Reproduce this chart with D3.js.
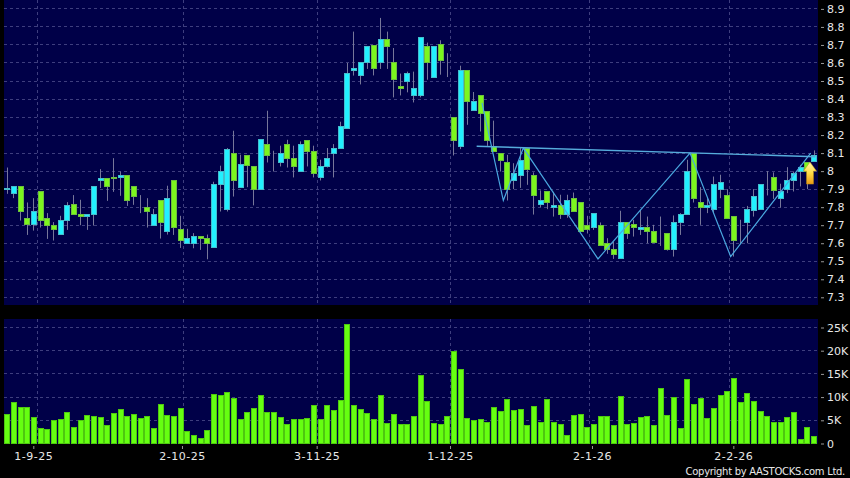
<!DOCTYPE html>
<html>
<head>
<meta charset="utf-8">
<script src="https://cdnjs.cloudflare.com/ajax/libs/d3/7.8.5/d3.min.js"></script>
<style>
html, body { margin: 0; padding: 0; background: #000; }
svg { display: block; }
text { font-family: "DejaVu Sans", sans-serif; fill: #e8e8e8; }
</style>
</head>
<body>
<div id="chart"></div>
<script>

var opens = [7.9,7.878,7.915,7.739,7.706,7.887,7.739,7.698,7.648,7.728,7.817,7.759,7.748,7.759,7.948,7.959,7.967,7.967,7.976,7.917,
	7.839,7.8,7.698,7.839,7.665,7.95,7.678,7.6,7.6,7.637,7.628,7.578,7.928,7.789,8.1,7.911,8.089,8.028,7.9,8.148,
	8.072,8.048,8.148,8.072,8.0,8.172,8.111,7.965,8.026,8.098,8.128,8.239,8.559,8.531,8.6,8.698,8.6,8.733,8.6,8.472,
	8.5,8.42,8.42,8.689,8.522,8.7,8.602,8.298,8.139,8.559,8.339,8.42,8.333,8.137,8.098,8.048,7.95,7.978,8.128,7.978,
	7.817,7.889,7.8,7.811,7.761,7.85,7.828,7.7,7.689,7.7,7.6,7.567,7.517,7.717,7.706,7.678,7.687,7.665,7.669,7.656,
	7.567,7.715,7.761,8.1,7.828,7.8,7.789,7.9,7.867,7.748,7.652,7.717,7.78,7.789,7.95,7.967,7.85,7.9,7.95,8.0,
	8.048,8.052]
var closes = [7.905,7.915,7.778,7.704,7.778,7.728,7.698,7.676,7.728,7.811,7.759,7.748,7.759,7.917,7.959,7.915,7.959,7.978,7.837,7.861,
	7.839,7.776,7.761,7.717,7.85,7.689,7.617,7.628,7.637,7.628,7.598,7.928,7.998,8.122,7.948,8.037,8.03,7.9,8.178,8.089,
	8.072,8.098,8.072,8.026,8.15,8.111,7.989,8.026,8.072,8.128,8.25,8.539,8.57,8.6,8.694,8.57,8.733,8.694,8.511,8.461,
	8.539,8.461,8.744,8.602,8.694,8.615,8.602,8.172,8.559,8.387,8.387,8.322,8.172,8.109,8.061,7.9,7.989,8.061,8.011,7.865,
	7.839,7.828,7.811,7.761,7.839,7.778,7.667,7.676,7.767,7.589,7.567,7.539,7.717,7.656,7.689,7.689,7.665,7.604,7.669,7.567,
	7.715,7.761,7.998,7.85,7.8,7.809,7.926,7.937,7.739,7.617,7.652,7.789,7.859,7.926,7.95,7.891,7.889,7.946,7.989,8.022,
	8.0,8.087]
var highs = [8.02,7.915,7.915,7.826,7.85,7.887,7.767,7.717,7.752,7.828,7.867,7.841,7.759,7.917,8.011,7.959,8.072,7.998,7.976,7.917,
	7.867,7.85,7.79,7.839,7.919,7.95,7.752,7.68,7.656,7.637,7.648,7.941,8.03,8.128,8.224,8.091,8.089,8.028,8.178,8.335,
	8.113,8.141,8.174,8.141,8.165,8.172,8.141,8.063,8.128,8.15,8.274,8.6,8.774,8.6,8.694,8.698,8.85,8.774,8.683,8.541,
	8.552,8.552,8.744,8.713,8.694,8.726,8.654,8.298,8.585,8.559,8.439,8.42,8.333,8.28,8.098,8.09,8.044,8.128,8.128,7.993,
	7.893,7.889,7.885,7.869,7.869,7.881,7.828,7.752,7.767,7.715,7.628,7.609,7.78,7.717,7.73,7.785,7.748,7.702,7.748,7.656,
	7.754,7.767,8.063,8.1,7.911,7.85,7.97,7.98,7.9,7.748,7.73,7.807,7.9,7.926,8.0,7.993,7.93,8.022,7.998,8.035,
	8.048,8.115]
var lows = [7.874,7.85,7.726,7.646,7.67,7.687,7.624,7.615,7.648,7.674,7.759,7.7,7.674,7.698,7.906,7.835,7.885,7.863,7.807,7.813,
	7.767,7.687,7.698,7.626,7.648,7.646,7.574,7.6,7.572,7.563,7.511,7.578,7.776,7.776,7.859,7.911,7.911,7.81,7.9,8.048,
	7.998,8.026,8.02,7.965,8.0,8.026,7.965,7.948,8.02,7.965,8.128,8.239,8.53,8.481,8.567,8.531,8.567,8.567,8.409,8.42,
	8.437,8.381,8.409,8.507,8.522,8.535,8.522,8.087,8.122,8.257,8.339,8.22,8.14,8.109,7.998,7.837,7.9,7.907,7.924,7.759,
	7.8,7.789,7.748,7.735,7.741,7.778,7.667,7.654,7.674,7.589,7.541,7.513,7.517,7.624,7.637,7.646,7.6,7.6,7.585,7.559,
	7.526,7.646,7.761,7.826,7.702,7.767,7.767,7.85,7.739,7.526,7.596,7.6,7.748,7.789,7.865,7.846,7.798,7.878,7.887,7.915,
	7.9,8.052]
var volumes = [6200,8900,7700,7800,5600,3200,3000,5000,5200,6700,3500,4900,6100,5900,5600,3900,6400,7400,5900,6300,
	5400,5800,3300,8500,6100,5900,7600,2500,1700,1100,2700,10500,10300,11000,9800,5200,6700,7600,10300,6600,
	6600,5500,4100,5200,5100,5300,8100,5200,8200,7200,9200,25600,8200,7300,6400,5200,10300,4400,6200,4000,
	4100,5900,14700,9100,4400,4200,5900,19900,16000,5300,5000,5100,4600,7700,7000,9400,7200,7300,3800,7900,
	4500,9400,4600,4000,1800,6100,6300,3500,4000,5900,5900,3800,10100,4200,4400,5600,5900,3800,11900,6000,
	10000,3300,13900,8300,9800,5300,7600,10300,11300,14000,8800,10800,9100,6900,5900,4600,4600,5600,6600,800,
	3500,1500]

var priceTicks = [7.3,7.4,7.5,7.6,7.7,7.8,7.9,8,8.1,8.2,8.3,8.4,8.5,8.6,8.7,8.8,8.9]
var volumeTicks = [0,5000,10000,15000,20000,25000]
var dateLabels = ["1-9-25","2-10-25","3-11-25","1-12-25","2-1-26","2-2-26"]
var dateTickIndex = [3.9,26.2,46.4,66.4,87.7,108.9]
var dateGridIndex = [4.5,26.4,46.5,66.5,87.4,108.4]

// hand drawn pattern on top of the candles, bar index / price
var neckIndex = [70.4,121.2]
var neckPrice = [8.138,8.08]
var zigzagIndex = [71.2,74.4,77.4,88.6,102.4,108.5,120.5]
var zigzagPrice = [8.378,7.837,8.128,7.513,8.1,7.526,8.1]
var arrowIndex = 120.4
var arrowPrice = 8.05

var width = 850
var height = 478
var left = 4
var right = 818

var svg = d3.select("#chart").append("svg")
	.attr("width", width)
	.attr("height", height)

var x = d3.scaleLinear().domain([0, 121]).range([7.3, 814])
var y = d3.scaleLinear().domain([7.3, 8.9]).range([297.3, 8.9])
var yVol = d3.scaleLinear().domain([0, 25000]).range([443.5, 327.5])

var defs = svg.append("defs")
var arrowGrad = defs.append("linearGradient")
	.attr("id", "arrowGrad")
	.attr("x1", 0).attr("y1", 0).attr("x2", 0).attr("y2", 1)
arrowGrad.append("stop").attr("offset", "0%").attr("stop-color", "#fff8a8")
arrowGrad.append("stop").attr("offset", "50%").attr("stop-color", "#ffdc46")
arrowGrad.append("stop").attr("offset", "100%").attr("stop-color", "#e89a14")

svg.append("rect").attr("width", width).attr("height", height).attr("fill", "#000")

// panels
svg.append("rect").attr("x", left).attr("y", 0).attr("width", right - left).attr("height", 305).attr("fill", "#000048")
svg.append("rect").attr("x", left).attr("y", 319).attr("width", right - left).attr("height", 124.7).attr("fill", "#000048")

var gridColor = "#3e3e7e"

function crisp(v) { return Math.round(v - 0.5) + 0.5 }

// horizontal grid
svg.append("g").selectAll("line")
	.data(priceTicks)
	.enter().append("line")
	.attr("x1", left).attr("x2", right)
	.attr("y1", function(d) { return crisp(y(d)) })
	.attr("y2", function(d) { return crisp(y(d)) })
	.attr("stroke", gridColor)
	.attr("stroke-dasharray", "3,3")

svg.append("g").selectAll("line")
	.data(volumeTicks.filter(function(d) { return d > 0 }))
	.enter().append("line")
	.attr("x1", left).attr("x2", right)
	.attr("y1", function(d) { return crisp(yVol(d)) })
	.attr("y2", function(d) { return crisp(yVol(d)) })
	.attr("stroke", gridColor)
	.attr("stroke-dasharray", "3,3")

// vertical grid, both panels
var vGrid = svg.append("g")
;[[0, 305], [319, 443]].forEach(function(span) {
	vGrid.append("g").selectAll("line")
		.data(dateGridIndex)
		.enter().append("line")
		.attr("x1", function(d) { return crisp(x(d)) })
		.attr("x2", function(d) { return crisp(x(d)) })
		.attr("y1", span[0]).attr("y2", span[1])
		.attr("stroke", gridColor)
		.attr("stroke-dasharray", "3,3")
})

// candles
var candles = svg.append("g").selectAll("g")
	.data(d3.range(opens.length))
	.enter().append("g")

candles.append("line")
	.attr("x1", function(i) { return crisp(x(i)) })
	.attr("x2", function(i) { return crisp(x(i)) })
	.attr("y1", function(i) { return y(highs[i]) })
	.attr("y2", function(i) { return y(lows[i]) })
	.attr("stroke", "#77779a")

candles.append("rect")
	.attr("x", function(i) { return Math.round(x(i)) - 2.5 })
	.attr("width", 5)
	.attr("y", function(i) { return crisp(y(Math.max(opens[i], closes[i]))) })
	.attr("height", function(i) {
		return Math.abs(crisp(y(opens[i])) - crisp(y(closes[i])))
	})
	.attr("fill", function(i) {
		if (closes[i] > opens[i]) return "#22f0ff"
		if (closes[i] < opens[i]) return "#7cf61e"
		return "#77779a"
	})
	.attr("stroke", function(i) {
		if (closes[i] == opens[i]) return "#9a9aaa"
		return closes[i] > opens[i] ? "#46bccc" : "#6cc03c"
	})

// volume
svg.append("g").selectAll("rect")
	.data(volumes)
	.enter().append("rect")
	.attr("x", function(d, i) { return Math.round(x(i)) - 2.5 })
	.attr("width", 5)
	.attr("y", function(d) { return crisp(yVol(d)) })
	.attr("height", function(d) { return yVol(0) - crisp(yVol(d)) })
	.attr("fill", "#66ff11")
	.attr("stroke", "#4ec810")

// pattern lines
var zigzag = d3.line()
	.x(function(i) { return x(zigzagIndex[i]) })
	.y(function(i) { return y(zigzagPrice[i]) })

svg.append("path")
	.attr("d", zigzag(d3.range(zigzagIndex.length)))
	.attr("fill", "none")
	.attr("stroke", "#4aa8e0")
	.attr("stroke-width", 1.2)

svg.append("line")
	.attr("x1", x(neckIndex[0])).attr("y1", y(neckPrice[0]))
	.attr("x2", x(neckIndex[1])).attr("y2", y(neckPrice[1]))
	.attr("stroke", "#56acdc")
	.attr("stroke-width", 1.4)

// arrow
var ax = x(arrowIndex)
var ay = y(arrowPrice)
svg.append("path")
	.attr("d", "M" + ax + "," + ay + "l6.5,9h-3v13h-7v-13h-3z")
	.attr("fill", "url(#arrowGrad)")
	.attr("stroke", "#b88a14")
	.attr("stroke-width", 0.5)

// axes
var priceAxis = d3.axisRight(y)
	.tickValues(priceTicks)
	.tickFormat(function(d) { return String(d) })
	.tickSize(3)
	.tickPadding(3)

var volAxis = d3.axisRight(yVol)
	.tickValues(volumeTicks)
	.tickFormat(function(d) { return d == 0 ? "0" : (d / 1000) + "K" })
	.tickSize(3)
	.tickPadding(3)

var dateAxis = d3.axisBottom(x)
	.tickValues(dateTickIndex)
	.tickFormat(function(d, i) { return dateLabels[i] })
	.tickSize(3)
	.tickPadding(3)

svg.append("g").attr("transform", "translate(821,0)").call(priceAxis)
svg.append("g").attr("transform", "translate(821,0)").call(volAxis)
svg.append("g").attr("transform", "translate(0,446)").attr("class", "dates").call(dateAxis)

svg.selectAll(".domain").remove()
svg.selectAll(".tick line").attr("stroke", "#999")
svg.selectAll(".tick text")
	.style("font-family", '"DejaVu Sans", sans-serif')
	.style("font-size", "11px")
	.attr("fill", "#e8e8e8")
svg.selectAll(".dates .tick text").style("letter-spacing", "0.5px")

svg.append("text")
	.attr("x", 845)
	.attr("y", 475)
	.attr("text-anchor", "end")
	.style("font-size", "10px")
	.style("letter-spacing", "-0.3px")
	.text("Copyright by AASTOCKS.com Ltd.")

</script>
</body>
</html>
